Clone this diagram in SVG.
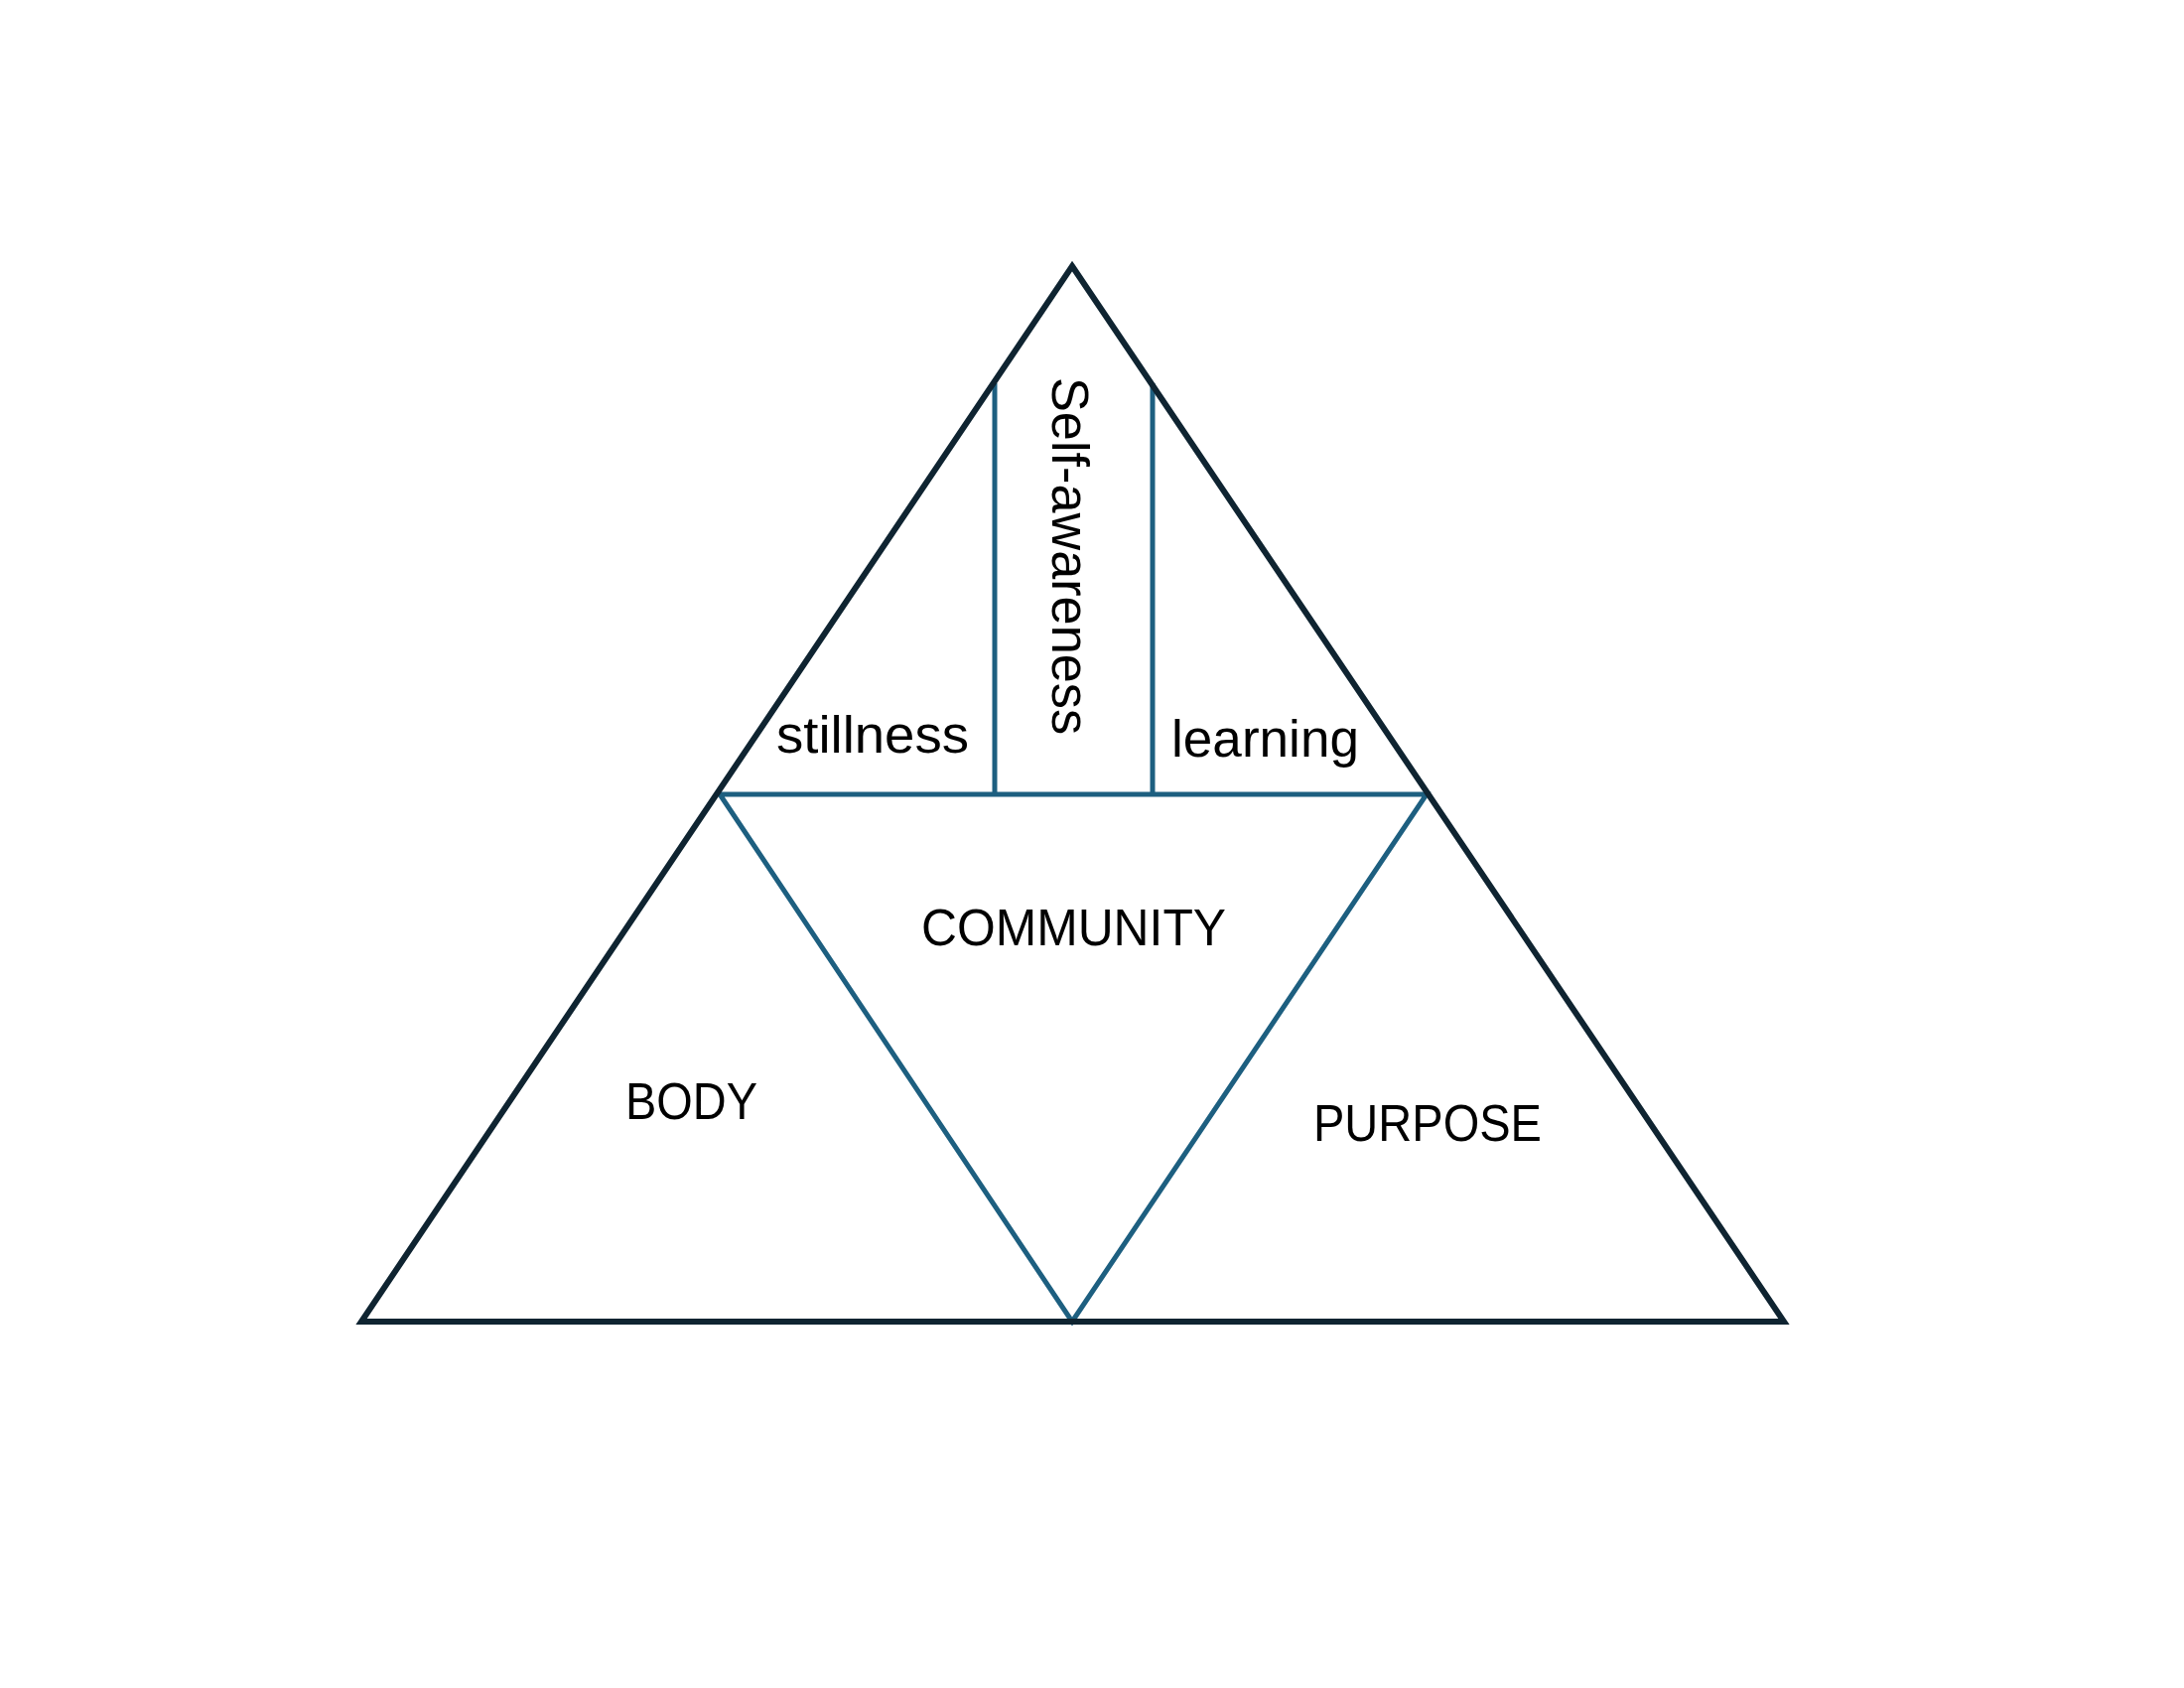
<svg xmlns="http://www.w3.org/2000/svg" width="2200" height="1700" viewBox="0 0 2200 1700">
<style>
.outer{fill:none;stroke:#0f2431;stroke-width:6;stroke-linejoin:miter}
.inner{fill:none;stroke:#1d5f80;stroke-width:5}
.lbl{font-family:"Liberation Sans",Arial,sans-serif;fill:#000}
.small{font-size:51px}
.cap{font-size:51px}
</style>
<rect width="2200" height="1700" fill="#fff"/>
<g id="connectors">
<polygon class="inner" points="725,800 1437,800 1080,1331"/>
<line class="inner" x1="1002" y1="386" x2="1002" y2="800"/>
<line class="inner" x1="1161" y1="386" x2="1161" y2="800"/>
<polygon class="outer" points="1080,268 1797,1331 364,1331"/>
</g>
<g id="stillness"><text class="lbl small" x="782" y="758" textLength="194" lengthAdjust="spacingAndGlyphs">stillness</text></g>
<g id="learning"><text class="lbl small" x="1180" y="762" textLength="189" lengthAdjust="spacingAndGlyphs">learning</text></g>
<g id="self-awareness"><text class="lbl small" transform="translate(1060,380) rotate(90)" x="0" y="0" textLength="360" lengthAdjust="spacingAndGlyphs">Self-awareness</text></g>
<g id="community"><text class="lbl cap" x="928" y="952" textLength="307" lengthAdjust="spacingAndGlyphs">COMMUNITY</text></g>
<g id="body"><text class="lbl cap" x="630" y="1127" textLength="133" lengthAdjust="spacingAndGlyphs">BODY</text></g>
<g id="purpose"><text class="lbl cap" x="1323" y="1149" textLength="230" lengthAdjust="spacingAndGlyphs">PURPOSE</text></g>
</svg>
